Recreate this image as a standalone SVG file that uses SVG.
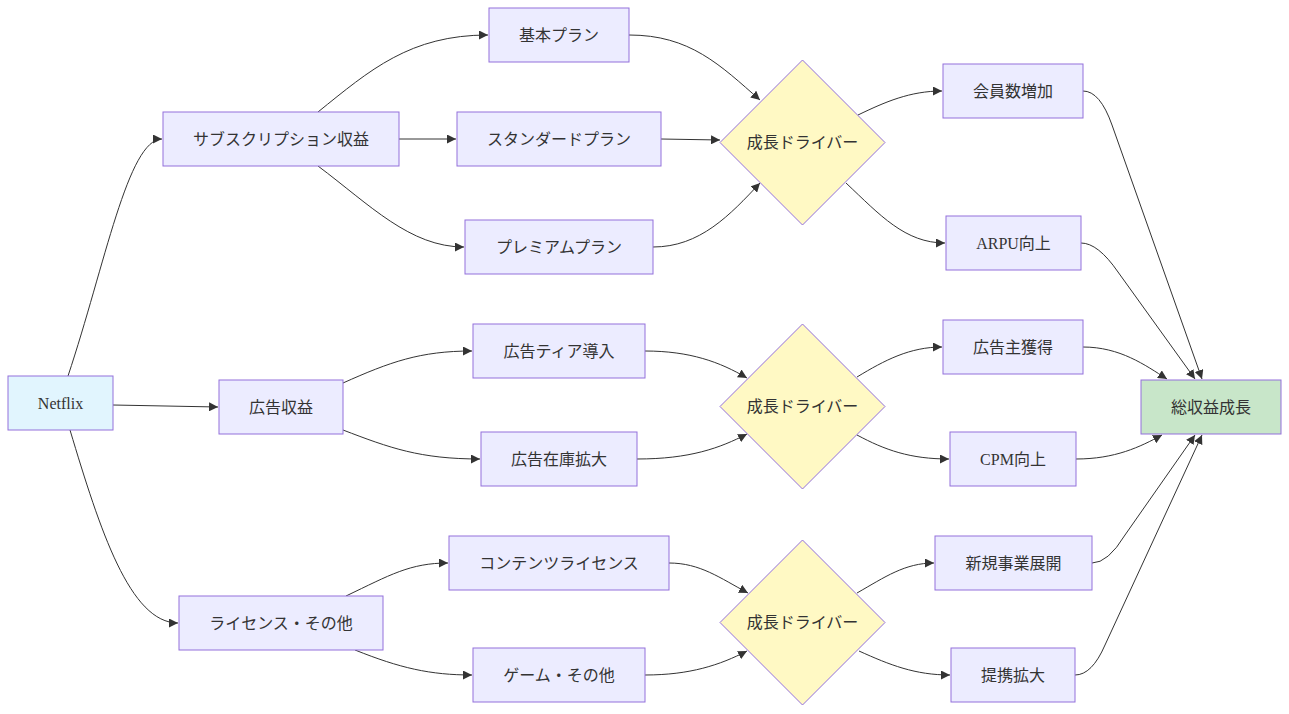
<svg xmlns="http://www.w3.org/2000/svg" width="1289" height="714" viewBox="0 0 1289 714">
<defs>
<marker id="arr" viewBox="0 0 10 10" refX="10" refY="5" markerWidth="9" markerHeight="9" markerUnits="userSpaceOnUse" orient="auto">
<path d="M0,0 L10,5 L0,10 z" fill="#333"/>
</marker>
<style>
.n rect{fill:#ECECFF;stroke:#9370DB;stroke-width:1}
.d polygon{fill:#fff9c4;stroke:#9370DB;stroke-width:1}
text{font-family:"Liberation Serif","Noto Sans CJK JP",serif;font-size:16px;fill:#333;text-anchor:middle;dominant-baseline:central}
#edges path{fill:none;stroke:#333;stroke-width:1;marker-end:url(#arr)}
</style>
</defs>
<rect width="1289" height="714" fill="#fff"/>
<g id="edges">
<path d="M68,376 C105,265 128,139 162,139"/>
<path d="M113,405 L218,407"/>
<path d="M70,430 C100,530 130,623 178,623"/>
<path d="M318,112 C370,70 410,35 488,35"/>
<path d="M399,139 L456,139"/>
<path d="M318,166 C370,205 410,247 464,247"/>
<path d="M343,383 C390,362 420,351 472,351"/>
<path d="M343,430 C390,448 420,459 480,459"/>
<path d="M346,596 C390,575 410,563 448,563"/>
<path d="M355,650 C400,668 430,675 472,675"/>
<path d="M629,35 C690,35 720,65 760,100"/>
<path d="M661,139 L720,140"/>
<path d="M653,247 C700,247 730,215 760,183"/>
<path d="M645,351 C690,351 720,362 747,378"/>
<path d="M637,459 C690,459 720,448 747,434"/>
<path d="M669,563 C700,563 720,578 748,593"/>
<path d="M645,675 C690,675 720,665 747,651"/>
<path d="M858,115 C885,102 910,91 942,91"/>
<path d="M846,183 C880,215 905,243 945,243"/>
<path d="M857,377 C885,360 910,347 942,347"/>
<path d="M857,435 C885,450 910,459 949,459"/>
<path d="M857,593 C885,577 905,563 934,563"/>
<path d="M859,651 C890,665 915,675 950,675"/>
<path d="M1083,91 Q1100,91 1112,125 L1202,379"/>
<path d="M1081,243 Q1098,243 1118,272 L1195,379"/>
<path d="M1083,347 C1120,347 1145,365 1167,379"/>
<path d="M1076,459 C1115,459 1140,447 1162,435"/>
<path d="M1092,563 Q1108,563 1125,535 L1195,435"/>
<path d="M1075,675 Q1092,675 1105,645 L1202,435"/>
</g>
<g id="netflix" class="n"><rect x="8" y="376" width="105" height="54" style="fill:#e1f5fe"/><text x="60.5" y="403">Netflix</text></g>
<g id="sub" class="n"><rect x="163" y="112" width="236" height="54"/><text x="281" y="139">サブスクリプション収益</text></g>
<g id="ad" class="n"><rect x="219" y="380" width="124" height="54"/><text x="281" y="407">広告収益</text></g>
<g id="lic" class="n"><rect x="179" y="596" width="204" height="54"/><text x="281" y="623">ライセンス・その他</text></g>
<g id="basic" class="n"><rect x="489" y="8" width="140" height="54"/><text x="559" y="35">基本プラン</text></g>
<g id="standard" class="n"><rect x="457" y="112" width="204" height="54"/><text x="559" y="139">スタンダードプラン</text></g>
<g id="premium" class="n"><rect x="465" y="220" width="188" height="54"/><text x="559" y="247">プレミアムプラン</text></g>
<g id="adtier" class="n"><rect x="473" y="324" width="172" height="54"/><text x="559" y="351">広告ティア導入</text></g>
<g id="inventory" class="n"><rect x="481" y="432" width="156" height="54"/><text x="559" y="459">広告在庫拡大</text></g>
<g id="content" class="n"><rect x="449" y="536" width="220" height="54"/><text x="559" y="563">コンテンツライセンス</text></g>
<g id="game" class="n"><rect x="473" y="648" width="172" height="54"/><text x="559" y="675">ゲーム・その他</text></g>
<g id="d1" class="d"><polygon points="802.5,60 885,142.5 802.5,225 720,142.5"/><text x="802.5" y="142.5">成長ドライバー</text></g>
<g id="d2" class="d"><polygon points="802.5,324 885,406.5 802.5,489 720,406.5"/><text x="802.5" y="406.5">成長ドライバー</text></g>
<g id="d3" class="d"><polygon points="802.5,540 885,622.5 802.5,705 720,622.5"/><text x="802.5" y="622.5">成長ドライバー</text></g>
<g id="members" class="n"><rect x="943" y="64" width="140" height="54"/><text x="1013" y="91">会員数増加</text></g>
<g id="arpu" class="n"><rect x="946" y="216" width="135" height="54"/><text x="1013.5" y="243">ARPU向上</text></g>
<g id="advertisers" class="n"><rect x="943" y="320" width="140" height="54"/><text x="1013" y="347">広告主獲得</text></g>
<g id="cpm" class="n"><rect x="950" y="432" width="126" height="54"/><text x="1013" y="459">CPM向上</text></g>
<g id="newbiz" class="n"><rect x="935" y="536" width="157" height="54"/><text x="1013.5" y="563">新規事業展開</text></g>
<g id="partner" class="n"><rect x="951" y="648" width="124" height="54"/><text x="1013" y="675">提携拡大</text></g>
<g id="total" class="n"><rect x="1141" y="380" width="140" height="54" style="fill:#c8e6c9"/><text x="1211" y="407">総収益成長</text></g>
</svg>
